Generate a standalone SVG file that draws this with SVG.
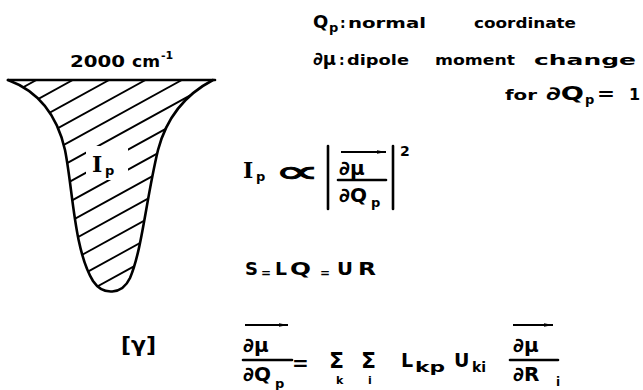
<svg xmlns="http://www.w3.org/2000/svg" width="643" height="390" viewBox="0 0 643 390">
<style>
text{font-family:"DejaVu Sans","Liberation Sans",sans-serif;font-weight:bold;fill:#000}
.ser{font-family:"DejaVu Serif","Liberation Serif",serif}
.nw{font-weight:normal;stroke:#000;stroke-width:0.9}
.ln{stroke:#000;stroke-width:2.6;fill:none;stroke-linecap:round}
.h{stroke:#000;stroke-width:1.8;fill:none}
.ar{stroke:#000;stroke-width:1.8;fill:none;marker-end:url(#ah)}
</style>
<defs>
<marker id="ah" markerWidth="10" markerHeight="6" refX="9" refY="3" orient="auto" markerUnits="userSpaceOnUse">
<path d="M0,1.2 L9,3 L0,4.8 Z" fill="#000"/>
</marker>
<clipPath id="pk">
<path d="M8,80 C35,90 56,110 65,150 C73,190 74,250 93,281 C103,296 122,295 130,278 C142,250 146,200 158,150 C168,112 190,92 213,80 Z"/>
</clipPath>
</defs>

<g id="peak">
<line class="ln" x1="8" y1="80" x2="215" y2="80"/>
<g clip-path="url(#pk)">
<g class="h">
<line x1="0" y1="100" x2="220" y2="-21"/>
<line x1="0" y1="120" x2="220" y2="-1"/>
<line x1="0" y1="140" x2="220" y2="19"/>
<line x1="0" y1="160" x2="220" y2="39"/>
<line x1="0" y1="180" x2="220" y2="59"/>
<line x1="0" y1="200" x2="220" y2="79"/>
<line x1="0" y1="220" x2="220" y2="99"/>
<line x1="0" y1="240" x2="220" y2="119"/>
<line x1="0" y1="260" x2="220" y2="139"/>
<line x1="0" y1="280" x2="220" y2="159"/>
<line x1="0" y1="300" x2="220" y2="179"/>
<line x1="0" y1="320" x2="220" y2="199"/>
<line x1="0" y1="340" x2="220" y2="219"/>
</g>
<rect x="86" y="146" width="42" height="34" fill="#fff"/>
</g>
<path class="ln" d="M8,80 C35,90 56,110 65,150 C73,190 74,250 93,281 C103,296 122,295 130,278 C142,250 146,200 158,150 C168,112 190,92 213,80"/>
<text x="92" y="172" class="ser" font-size="22">I</text>
<text x="105" y="175" font-size="13">p</text>
</g>

<g id="wavenumber">
<text x="70" y="67" font-size="16" textLength="55" lengthAdjust="spacingAndGlyphs">2000</text>
<text x="132" y="67" font-size="16" textLength="28" lengthAdjust="spacingAndGlyphs">cm</text>
<text x="161" y="59" font-size="11">-1</text>
</g>

<g id="legend">
<text x="313" y="28" font-size="18">Q</text>
<text x="329" y="32" font-size="13">p</text>
<text x="340" y="28" font-size="14">:</text>
<text x="348" y="28" font-size="14" textLength="78" lengthAdjust="spacingAndGlyphs">normal</text>
<text x="474" y="28" font-size="14" textLength="102" lengthAdjust="spacingAndGlyphs">coordinate</text>
<text x="313" y="65" font-size="18">∂μ</text>
<text x="339" y="65" font-size="14">:</text>
<text x="347" y="65" font-size="14" textLength="62" lengthAdjust="spacingAndGlyphs">dipole</text>
<text x="435" y="65" font-size="14" textLength="80" lengthAdjust="spacingAndGlyphs">moment</text>
<text x="534" y="65" font-size="14" textLength="102" lengthAdjust="spacingAndGlyphs">change</text>
<text x="505" y="100" font-size="14" textLength="32" lengthAdjust="spacingAndGlyphs">for</text>
<text x="546" y="100" font-size="19" textLength="38" lengthAdjust="spacingAndGlyphs">∂Q</text>
<text x="585" y="104" font-size="13">p</text>
<text x="597" y="100" font-size="18" textLength="18" lengthAdjust="spacingAndGlyphs">=</text>
<text x="629" y="100" font-size="16">1</text>
</g>

<g id="eq-intensity">
<text x="243" y="178" class="ser" font-size="22">I</text>
<text x="256" y="181" font-size="13">p</text>
<text x="274" y="182" class="nw" font-size="30" textLength="46" lengthAdjust="spacingAndGlyphs">∝</text>
<line class="ln" x1="328" y1="146" x2="328" y2="209"/>
<line class="ar" x1="341" y1="152" x2="386" y2="152"/>
<text x="339" y="175" font-size="20">∂μ</text>
<line class="ln" x1="338" y1="180" x2="386" y2="180"/>
<text x="339" y="202" font-size="20">∂Q</text>
<text x="371" y="207" font-size="13">p</text>
<line class="ln" x1="393" y1="146" x2="393" y2="209"/>
<text x="400" y="156" font-size="14">2</text>
</g>

<g id="eq-s">
<text x="245" y="275" font-size="18">S</text>
<text x="261" y="277" font-size="12">=</text>
<text x="275" y="275" font-size="18" textLength="12" lengthAdjust="spacingAndGlyphs">L</text>
<text x="290" y="275" font-size="18" textLength="21" lengthAdjust="spacingAndGlyphs">Q</text>
<text x="320" y="277" font-size="12">=</text>
<text x="337" y="275" font-size="18" textLength="16" lengthAdjust="spacingAndGlyphs">U</text>
<text x="358" y="275" font-size="18" textLength="18" lengthAdjust="spacingAndGlyphs">R</text>
</g>

<g id="eq-gamma">
<text x="121" y="352" font-size="22">[γ]</text>
<line class="ar" x1="245" y1="325" x2="288" y2="325"/>
<text x="243" y="352" font-size="20">∂μ</text>
<line class="ln" x1="243" y1="360" x2="292" y2="360"/>
<text x="243" y="381" font-size="20">∂Q</text>
<text x="275" y="388" font-size="13">p</text>
<text x="292" y="370" font-size="20">=</text>
<text x="329" y="368" font-size="22">Σ</text>
<text x="336" y="384" font-size="11">k</text>
<text x="361" y="368" font-size="22">Σ</text>
<text x="368" y="384" font-size="11">i</text>
<text x="401" y="367" font-size="19">L</text>
<text x="415" y="372" font-size="14" textLength="30" lengthAdjust="spacingAndGlyphs">kp</text>
<text x="454" y="367" font-size="19">U</text>
<text x="472" y="372" font-size="14">ki</text>
<line class="ar" x1="513" y1="325" x2="553" y2="325"/>
<text x="513" y="352" font-size="20">∂μ</text>
<line class="ln" x1="510" y1="360" x2="558" y2="360"/>
<text x="513" y="381" font-size="20">∂R</text>
<text x="556" y="386" font-size="12">i</text>
</g>
</svg>
